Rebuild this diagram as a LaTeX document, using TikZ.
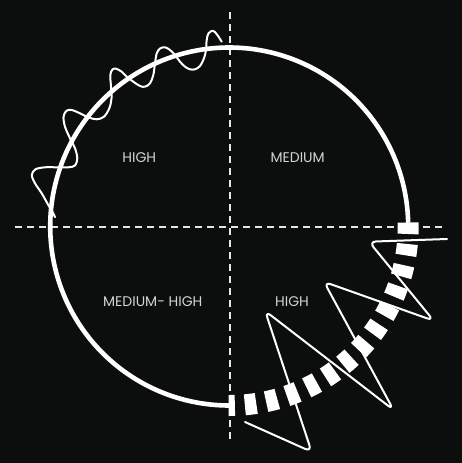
\documentclass[tikz,border=0pt]{standalone}
\usepackage{fontspec}
\setmainfont{Poppins}
\definecolor{bgc}{HTML}{0C0E0E}
\definecolor{guidec}{HTML}{E6E6E6}
\definecolor{lblc}{HTML}{D4D4D4}
\tikzset{
  guide/.style={guidec, line width=1.6pt, dash pattern=on 7pt off 5pt},
  ring/.style={white, line width=4.6pt},
  block/.style={white, line width=21pt},
  thin/.style={white, line width=2pt, line cap=round, line join=round},
  lbl/.style={text=lblc, font=\fontsize{14}{16}\selectfont, inner sep=0pt}
}
\begin{document}
\begin{tikzpicture}[x=1pt,y=-1pt]
\fill[bgc] (0,0) rectangle (462,463);
\useasboundingbox (0,0) rectangle (462,463);
% guides
\coordinate (hl) at (15,226.7);
\coordinate (hr) at (446,226.7);
\coordinate (vt) at (230,12);
\coordinate (vb) at (230,442);
\draw[guide] (hl) -- (hr);
\draw[guide] (vt) -- (vb);
% solid ring (bottom -> left -> top -> right)
\draw[ring] plot[domain=90:358.8, samples=240] ({229.2+179*cos(\x)}, {226.5+179*sin(\x)});
% thick dashed quarter
\foreach \i in {0,...,13}{
  \pgfmathsetmacro\aa{-1.28+6.882*\i}
  \pgfmathsetmacro\bb{min(\aa+3.68,90.2)}
  \draw[block] plot[domain=\aa:\bb, samples=8] ({229.2+179*cos(\x)}, {226.5+179*sin(\x)});
}
% zigzag
\draw[thin, rounded corners=7pt] (447,239) -- (369,241.7) -- (433.7,320.7) -- (324,281.8) -- (393.5,409.9) -- (265.1,310.9) -- (311.6,451.8) -- (245,422);
% squiggle
\draw[thin] plot[smooth, tension=0.55] coordinates {
(221.7,41.7) (217,34.5) (213,30.8) (208.5,33.3) (206.7,40) (206,50) (204,58.3) (200,66) (195,69.3) (190,69.3) (185,66.7) (180,61.7) (175,55) (170,50) (165,47.3) (160,48.5) (156.7,53.5) (155,63.3) (153.3,75) (150,83.3) (145,86.7) (140,86) (133.3,81.7) (126.7,76.7) (121.7,71.7) (116,68.7) (112.5,69.5) (110.3,75) (111,86.7) (111.5,98.3) (109.3,108.3) (104,116.7) (96.7,119.3) (88.3,117.3) (80,113.3) (71.7,110) (66.5,110.8) (63.5,116.7) (65,126.7) (70,138.3) (75,148.3) (77.3,158.3) (75,165.5) (68.3,167.3) (56.7,167.3) (45,167.3) (35.5,169.3) (31.8,175) (35,183.3) (41.7,193.3) (48.3,205) (53.3,213.3) (55,217.3)};
% labels
\node[lbl] (q1) at (139.3,158) {HIGH};
\node[lbl] (q2) at (297.7,158) {MEDIUM};
\node[lbl] (q3) at (152.8,302) {MEDIUM- HIGH};
\node[lbl] (q4) at (292,302) {HIGH};
\end{tikzpicture}
\end{document}
